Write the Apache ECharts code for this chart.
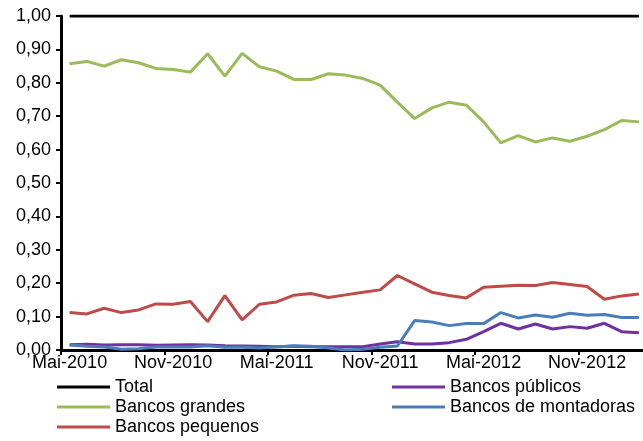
<!DOCTYPE html>
<html>
<head>
<meta charset="utf-8">
<script src="https://cdn.jsdelivr.net/npm/echarts@6/dist/echarts.min.js"></script>
<style>html,body{margin:0;padding:0;background:#fff}#c{width:643px;height:441px}</style>
</head>
<body>
<div id="c"></div>
<script>
const categories = ['Mai-2010','Jun-2010','Jul-2010','Ago-2010','Set-2010','Out-2010','Nov-2010','Dez-2010',
  'Jan-2011','Fev-2011','Mar-2011','Abr-2011','Mai-2011','Jun-2011','Jul-2011','Ago-2011','Set-2011','Out-2011','Nov-2011','Dez-2011',
  'Jan-2012','Fev-2012','Mar-2012','Abr-2012','Mai-2012','Jun-2012','Jul-2012','Ago-2012','Set-2012','Out-2012','Nov-2012','Dez-2012',
  'Jan-2013','Fev-2013'];
const total = [1,1,1,1,1,1,1,1,1,1,1,1,1,1,1,1,1,1,1,1,1,1,1,1,1,1,1,1,1,1,1,1,1,1];
const bancosGrandes = [0.857,0.864,0.850,0.869,0.860,0.843,0.840,0.832,0.887,0.820,0.888,0.848,0.835,0.810,0.810,0.827,0.823,0.813,0.793,0.742,0.693,0.725,0.742,0.733,0.683,0.620,0.642,0.623,0.635,0.625,0.640,0.660,0.687,0.683];
const bancosPequenos = [0.112,0.108,0.125,0.112,0.120,0.138,0.137,0.145,0.085,0.163,0.090,0.137,0.144,0.164,0.169,0.157,0.165,0.173,0.180,0.223,0.198,0.173,0.163,0.156,0.188,0.191,0.194,0.193,0.202,0.196,0.190,0.152,0.162,0.168];
const bancosPublicos = [0.016,0.017,0.015,0.016,0.016,0.014,0.015,0.016,0.015,0.013,0.012,0.011,0.010,0.011,0.010,0.010,0.010,0.010,0.018,0.025,0.018,0.018,0.022,0.032,0.055,0.080,0.063,0.078,0.063,0.070,0.065,0.080,0.055,0.052];
const bancosMontadoras = [0.015,0.011,0.009,0.002,0.004,0.009,0.009,0.009,0.013,0.008,0.008,0.006,0.009,0.013,0.011,0.006,0.000,0.002,0.008,0.012,0.088,0.084,0.073,0.079,0.079,0.112,0.096,0.105,0.098,0.110,0.104,0.106,0.097,0.097];

const FONT = 'Liberation Sans, Arial, sans-serif';
const chart = echarts.init(document.getElementById('c'), null, {renderer:'canvas'});
function mk(name, data, color){
  return {name, type:'line', data, showSymbol:false, symbol:'none', smooth:false,
    lineStyle:{color, width:3}, itemStyle:{color}, emphasis:{disabled:true}};
}
function lg(name, left, top){
  return {data:[name], left, top, icon:'rect', itemWidth:53, itemHeight:3, padding:0,
    textStyle:{fontFamily:FONT, fontSize:18, color:'#000', lineHeight:18}, selectedMode:false};
}
chart.setOption({
  animation:false,
  backgroundColor:'#fff',
  grid:{left:61, top:16, width:586.5, bottom:91, containLabel:false, outerBoundsMode:'none'},
  legend:[lg('Total',57,378), lg('Bancos grandes',57,398), lg('Bancos pequenos',57,418),
          lg('Bancos públicos',392,378), lg('Bancos de montadoras',392,398)],
  xAxis:{type:'category', data:categories, boundaryGap:true,
    axisLine:{show:true, lineStyle:{color:'#000', width:3}},
    axisTick:{show:true, inside:false, length:5, interval:(i)=>i%6===0, lineStyle:{color:'#000', width:2}},
    axisLabel:{interval:(i)=>i%6===0, margin:4, fontFamily:FONT, fontSize:18, color:'#000'},
    splitLine:{show:false}},
  yAxis:{type:'value', min:0, max:1, interval:0.1,
    axisLine:{show:true, lineStyle:{color:'#000', width:3}},
    axisTick:{show:true, inside:false, length:5, lineStyle:{color:'#000', width:2}},
    axisLabel:{margin:10, fontFamily:FONT, fontSize:18, color:'#000',
      formatter:(v)=>v.toFixed(2).replace('.',',')},
    splitLine:{show:false}},
  series:[
    mk('Total', total, '#000000'),
    mk('Bancos públicos', bancosPublicos, '#7030A0'),
    mk('Bancos grandes', bancosGrandes, '#9BBB59'),
    mk('Bancos de montadoras', bancosMontadoras, '#4A7EBB'),
    mk('Bancos pequenos', bancosPequenos, '#BE4B48')
  ]
});
</script>
</body>
</html>
